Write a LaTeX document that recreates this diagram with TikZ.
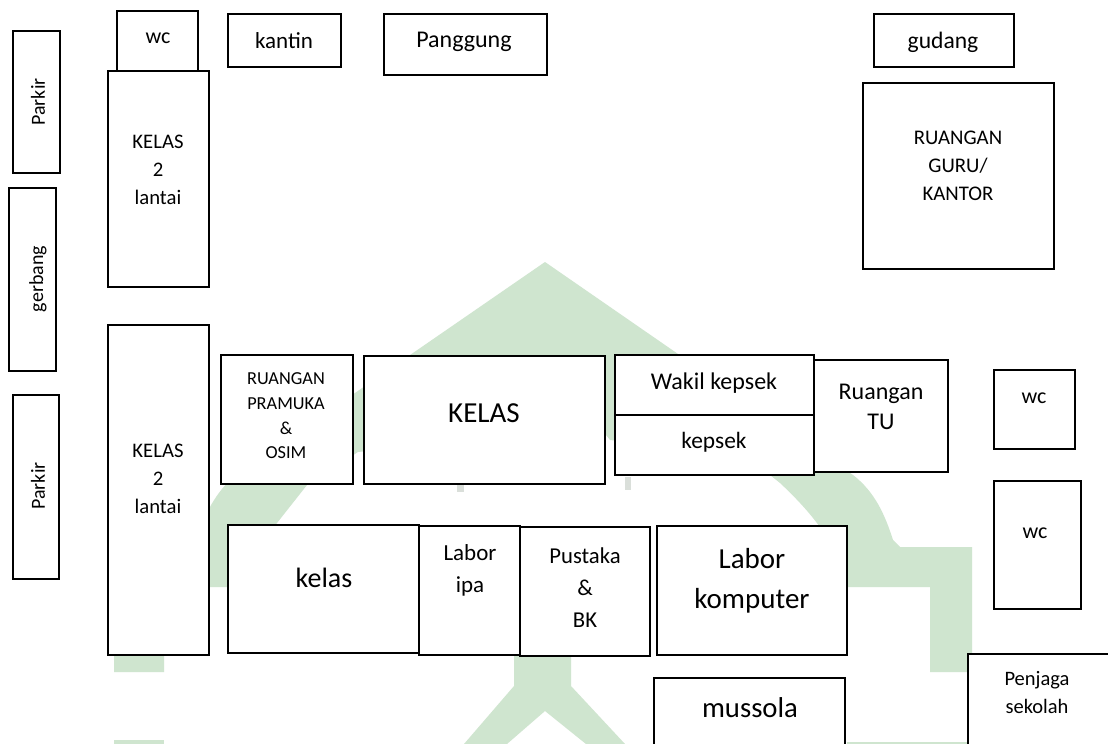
\documentclass[tikz,border=0pt]{standalone}
\usepackage{fontspec}
\setmainfont{Carlito}
\definecolor{mark}{HTML}{CFE5CF}
\definecolor{smudge}{HTML}{DADFDA}
\tikzset{
  x=1pt,y=-1pt,
  wall/.style={draw=black,line width=2.3pt,fill=white},
  openwall/.style={draw=black,line width=2.3pt},
  watermark/.style={fill=mark,draw=none,even odd rule},
  lbl/.style={inner sep=0pt,align=center,text=black},
}
\newcommand{\fs}[2]{\fontsize{#1}{#2}\selectfont}
\newcommand{\room}[4]{\draw[wall] (#1,#2) rectangle (#3,#4);}
\begin{document}
\begin{tikzpicture}
\useasboundingbox (0,0) rectangle (1108,744);
\fill[white] (0,0) rectangle (1108,744);
% watermark
\fill[watermark]
  (545,262) -- (853,475) .. controls (875,492) and (885,515) .. (893,540) -- (900,547) -- (972,547) -- (972,672) -- (930,672) -- (930,587) -- (846,587)
  .. controls (840,555) and (825,525) .. (780,483) -- (745,455) -- (610,440) -- (545,358) -- (470,440) -- (358,452) -- (307,485)
  -- (277,523) .. controls (255,545) and (245,565) .. (240,587) -- (164,587) -- (164,672) -- (114,672) -- (114,547) -- (188,547) -- (195,540)
  .. controls (205,515) and (215,492) .. (236,475) -- cycle;
\fill[watermark] (514,655) -- (571,655) -- (571,686) -- (625,744) -- (586,744) -- (545,711) -- (507,744) -- (464,744) -- (514,686) -- cycle;
\fill[watermark] (114,740) rectangle (164,744);
\fill[watermark] (847,742) rectangle (967,744);
\fill[smudge] (457,485) rectangle (464,492);
\fill[smudge] (625,477) rectangle (631,490);
% rooms
\room{13}{31}{60}{173}
\room{9}{188}{56}{371}
\room{13}{395}{59}{579}
\room{117}{11}{198}{71}
\room{228}{14}{341}{67}
\room{384}{14}{547}{75}
\room{874}{14}{1014}{67}
\room{863}{83}{1054}{269}
\room{108}{71}{209}{287}
\room{108}{325}{209}{655}
\room{221}{355}{353}{484}
\room{364}{356}{605}{484}
\room{615}{355}{814}{415}
\room{615}{415}{814}{475}
\room{814}{360}{948}{472}
\room{994}{370}{1075}{449}
\room{994}{481}{1081}{609}
\room{228}{525}{419}{653}
\room{419}{526}{520}{655}
\room{520}{527}{650}{656}
\room{657}{526}{847}{655}
\fill[white] (654,678) rectangle (845,744);
\draw[openwall] (654,745) -- (654,678) -- (845,678) -- (845,745);
\fill[white] (968,654) rectangle (1108,744);
\draw[openwall] (968,745) -- (968,654) -- (1109,654);
% labels
\node[lbl,rotate=90,font=\fs{20}{24}] (parkirA) at (38,102) {Parkir};
\node[lbl,rotate=90,font=\fs{20}{24}] (gerbang) at (38,279) {gerbang};
\node[lbl,rotate=90,font=\fs{20}{24}] (parkirB) at (38,486) {Parkir};
\node[lbl,font=\fs{22}{26}] (wcA) at (158,38) {wc};
\node[lbl,font=\fs{23}{27}] (kantin) at (284,41) {kantin};
\node[lbl,font=\fs{24}{28}] (panggung) at (464,42) {Panggung};
\node[lbl,font=\fs{23.6}{28}] (gudang) at (943,42) {gudang};
\node[lbl,font=\fs{20.8}{28}] (guru) at (958,166) {RUANGAN\\GURU/\\KANTOR};
\node[lbl,font=\fs{20.7}{28}] (kelasA) at (158,170) {KELAS\\2\\lantai};
\node[lbl,font=\fs{20.7}{28}] (kelasB) at (158,479) {KELAS\\2\\lantai};
\node[lbl,font=\fs{18.3}{24.6}] (pramuka) at (286,416) {RUANGAN\\PRAMUKA\\\&\\OSIM};
\node[lbl,font=\fs{29}{34}] (kelasC) at (484,413) {KELAS};
\node[lbl,font=\fs{24}{28}] (wakil) at (714,383) {Wakil kepsek};
\node[lbl,font=\fs{23.4}{28}] (kepsek) at (714,442) {kepsek};
\node[lbl,font=\fs{24}{30}] (tu) at (881,407) {Ruangan\\TU};
\node[lbl,font=\fs{22}{26}] (wcB) at (1034,398) {wc};
\node[lbl,font=\fs{22}{26}] (wcC) at (1035,533) {wc};
\node[lbl,font=\fs{28}{32}] (kelasD) at (324,578) {kelas};
\node[lbl,font=\fs{23}{32}] (ipa) at (470,570) {Labor\\ipa};
\node[lbl,font=\fs{22.7}{32}] (pustaka) at (585,588) {Pustaka\\\&\\BK};
\node[lbl,font=\fs{29}{40}] (komputer) at (752,581) {Labor\\komputer};
\node[lbl,font=\fs{28.7}{32}] (mussola) at (750,708) {mussola};
\node[lbl,font=\fs{20.5}{28}] (penjaga) at (1037,693) {Penjaga\\sekolah};
\end{tikzpicture}
\end{document}
